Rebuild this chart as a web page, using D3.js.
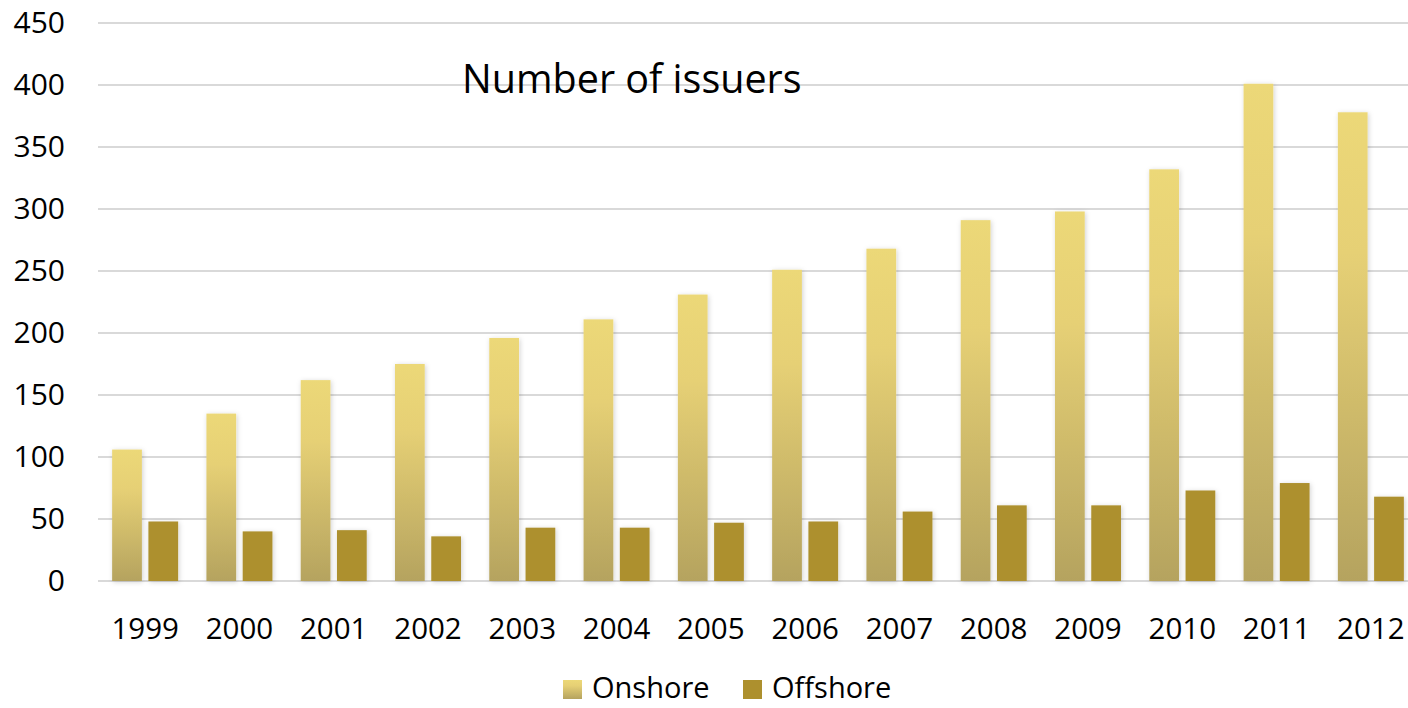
<!DOCTYPE html>
<html lang="en">
<head>
<meta charset="UTF-8">
<title>Number of issuers</title>
<style>
    body { margin: 0; background: #fff; }
    svg text { font-family: "Open Sans", "Noto Sans", sans-serif; fill: #000; }
</style>
</head>
<body>
<div id="chart"></div>
<script src="https://cdnjs.cloudflare.com/ajax/libs/d3/7.8.5/d3.min.js"></script>
<script>
// Data
const years = ["1999", "2000", "2001", "2002", "2003", "2004", "2005", "2006",
               "2007", "2008", "2009", "2010", "2011", "2012"];
const onshore = [106, 135, 162, 175, 196, 211, 231, 251, 268, 291, 298, 332, 401, 378];
const offshore = [48, 40, 41, 36, 43, 43, 47, 48, 56, 61, 61, 73, 79, 68];
const seriesNames = ["Onshore", "Offshore"];
const yTicks = [0, 50, 100, 150, 200, 250, 300, 350, 400, 450];

const width = 1408, height = 708;
const margin = { top: 23, left: 98, bottom: 127 };
const plotRight = 1418; // the chart runs slightly past the window edge

const svg = d3.select("#chart").append("svg")
    .attr("width", width)
    .attr("height", height);

const defs = svg.append("defs");
const grad = defs.append("linearGradient")
    .attr("id", "onshoreGrad")
    .attr("x1", 0).attr("y1", 0).attr("x2", 0).attr("y2", 1);
grad.append("stop").attr("offset", "0%").attr("stop-color", "#ecd878");
grad.append("stop").attr("offset", "30%").attr("stop-color", "#e6d075");
grad.append("stop").attr("offset", "100%").attr("stop-color", "#b5a35f");

const shadow = defs.append("filter").attr("id", "shadow")
    .attr("x", "-30%").attr("y", "-10%").attr("width", "160%").attr("height", "120%");
shadow.append("feDropShadow")
    .attr("dx", 1).attr("dy", 1).attr("stdDeviation", 2.5)
    .attr("flood-color", "#000").attr("flood-opacity", 0.18);

const x = d3.scaleBand()
    .domain(years)
    .range([margin.left, plotRight])
    .paddingInner(0.3)
    .paddingOuter(0.15);

const xSub = d3.scaleBand()
    .domain(seriesNames)
    .range([0, x.bandwidth()])
    .paddingInner(0.18);

const y = d3.scaleLinear()
    .domain([0, 450])
    .range([height - margin.bottom, margin.top]);

// Gridlines
svg.append("g")
    .selectAll("line")
    .data(yTicks)
    .join("line")
    .attr("x1", margin.left)
    .attr("x2", width)
    .attr("y1", d => y(d))
    .attr("y2", d => y(d))
    .attr("stroke", "#d9d9d9")
    .attr("stroke-width", 2);

// Y axis labels
const yAxis = svg.append("g")
    .attr("transform", `translate(${margin.left},0)`)
    .call(d3.axisLeft(y).tickValues(yTicks).tickSize(0).tickPadding(33));
yAxis.select(".domain").remove();
yAxis.selectAll("text")
    .attr("font-size", 30)
    .attr("font-family", "'Open Sans', 'Noto Sans', sans-serif")
    .attr("fill", "#000");

// X axis labels
const xAxis = svg.append("g")
    .attr("transform", `translate(0,${y(0)})`)
    .call(d3.axisBottom(x).tickSize(0).tickPadding(37));
xAxis.select(".domain").remove();
xAxis.selectAll("text")
    .attr("font-size", 29.5)
    .attr("font-family", "'Open Sans', 'Noto Sans', sans-serif")
    .attr("fill", "#000");

// Bars
const groups = svg.append("g")
    .selectAll("g")
    .data(years)
    .join("g")
    .attr("transform", d => `translate(${x(d)},0)`);

groups.append("rect")
    .attr("x", xSub("Onshore"))
    .attr("y", (d, i) => y(onshore[i]))
    .attr("width", xSub.bandwidth())
    .attr("height", (d, i) => y(0) - y(onshore[i]))
    .attr("fill", "url(#onshoreGrad)")
    .attr("filter", "url(#shadow)");

groups.append("rect")
    .attr("x", xSub("Offshore"))
    .attr("y", (d, i) => y(offshore[i]))
    .attr("width", xSub.bandwidth())
    .attr("height", (d, i) => y(0) - y(offshore[i]))
    .attr("fill", "#ad902e")
    .attr("filter", "url(#shadow)");

// Title
svg.append("text")
    .attr("x", 462)
    .attr("y", 93)
    .attr("font-size", 39.5)
    .text("Number of issuers");

// Legend
const legendX = [563, 743];
const legend = svg.append("g")
    .selectAll("g")
    .data(seriesNames)
    .join("g")
    .attr("transform", (d, i) => `translate(${legendX[i]},680)`);
legend.append("rect")
    .attr("width", 19)
    .attr("height", 19)
    .attr("fill", (d, i) => i === 0 ? "url(#onshoreGrad)" : "#ad902e");
legend.append("text")
    .attr("x", 29)
    .attr("y", 18)
    .attr("font-size", 29)
    .text(d => d);
</script>
</body>
</html>
